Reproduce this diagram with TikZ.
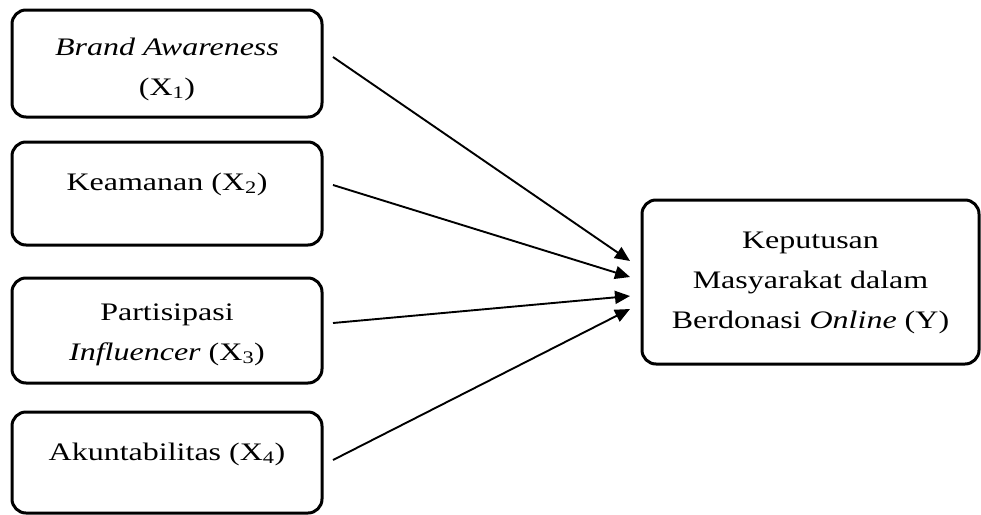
\documentclass[tikz,border=0pt]{standalone}
\usepackage{fontspec}
\setmainfont{Liberation Serif}[FakeStretch=1.27]
\usetikzlibrary{arrows.meta,positioning}
\newcommand{\topstrut}[1]{\rule{0pt}{#1}}
\newcommand{\botstrut}[1]{\rule[-#1]{0pt}{#1}}

\begin{document}
\begin{tikzpicture}[x=1pt,y=1pt,>={Triangle[length=15pt,width=13pt]},font=\fontsize{25.2}{40}\selectfont,every node/.style={align=center},
    varbox/.style={draw,line width=3pt,rounded corners=14pt,outer sep=0pt,inner sep=0pt,minimum width=310pt},
    arr/.style={->,line width=1.9pt}]
    \useasboundingbox (0,0) rectangle (981,-514);
    % independent variables
    \node[varbox,minimum height=107pt] (x1) at (167,-63.5) {\topstrut{29pt}\textit{Brand Awareness}\\(X\textsubscript{1})\botstrut{6pt}};
    \node[varbox,minimum height=103pt,below=25pt of x1] (x2) {\topstrut{18pt}Keamanan (X\textsubscript{2})\botstrut{25pt}};
    \node[varbox,minimum height=105pt,below=33pt of x2] (x3) {\topstrut{25pt}Partisipasi\\\textit{Influencer} (X\textsubscript{3})\botstrut{6pt}};
    \node[varbox,minimum height=101pt,below=29pt of x3] (x4) {\topstrut{18pt}Akuntabilitas (X\textsubscript{4})\botstrut{23pt}};
    % dependent variable
    \node[varbox,minimum width=337pt,minimum height=164pt] (y) at (810.5,-282) {\topstrut{18pt}Keputusan\\Masyarakat dalam\\Berdonasi \textit{Online} (Y)\botstrut{6pt}};
    \draw[arr] ([xshift=11pt,yshift=6.5pt]x1.east) -- ([xshift=-12pt,yshift=21pt]y.west);
    \draw[arr] ([xshift=11pt,yshift=8.5pt]x2.east) -- ([xshift=-12pt,yshift=5pt]y.west);
    \draw[arr] ([xshift=11pt,yshift=7.5pt]x3.east) -- ([xshift=-12pt,yshift=-14pt]y.west);
    \draw[arr] ([xshift=11pt,yshift=2.5pt]x4.east) -- ([xshift=-12pt,yshift=-27pt]y.west);
\end{tikzpicture}
\end{document}
